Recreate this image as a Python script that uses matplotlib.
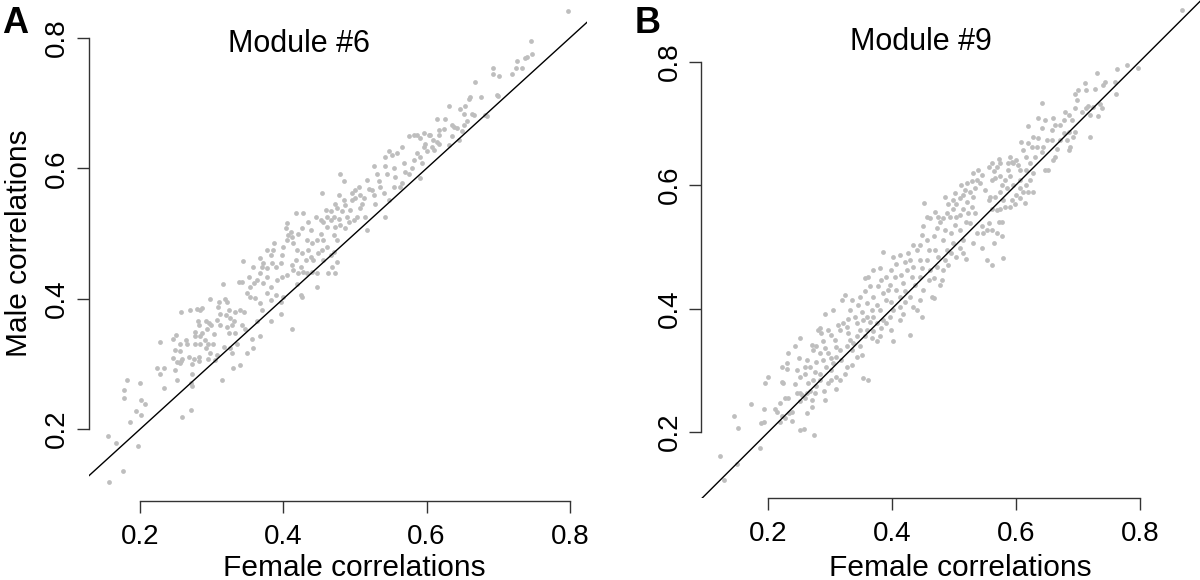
import matplotlib
matplotlib.use("Agg")
import matplotlib.pyplot as plt

plt.rcParams['font.family'] = ['Liberation Sans', 'DejaVu Sans']

W, H = 1200, 580

# (female, male) correlation pairs
a_pts = [
    (0.156, 0.119), (0.176, 0.135), (0.155, 0.190), (0.166, 0.179), (0.197, 0.174),
    (0.186, 0.210), (0.201, 0.222), (0.194, 0.228), (0.178, 0.247), (0.178, 0.260),
    (0.181, 0.275), (0.200, 0.271), (0.201, 0.245), (0.207, 0.238), (0.228, 0.334),
    (0.223, 0.294), (0.227, 0.285), (0.233, 0.294), (0.233, 0.263), (0.259, 0.219),
    (0.271, 0.229), (0.246, 0.338), (0.250, 0.344), (0.252, 0.275), (0.248, 0.291),
    (0.246, 0.309), (0.249, 0.321), (0.255, 0.320), (0.256, 0.330), (0.251, 0.303),
    (0.257, 0.305), (0.259, 0.308), (0.255, 0.301), (0.271, 0.270), (0.272, 0.266),
    (0.273, 0.284), (0.272, 0.300), (0.268, 0.310), (0.275, 0.308), (0.282, 0.310),
    (0.282, 0.305), (0.266, 0.331), (0.264, 0.337), (0.257, 0.379), (0.270, 0.382),
    (0.279, 0.384), (0.283, 0.382), (0.286, 0.385), (0.280, 0.365), (0.282, 0.360),
    (0.276, 0.349), (0.276, 0.342), (0.283, 0.342), (0.277, 0.331), (0.284, 0.331),
    (0.290, 0.337), (0.292, 0.325), (0.295, 0.330), (0.286, 0.348), (0.292, 0.365),
    (0.296, 0.362), (0.293, 0.353), (0.299, 0.360), (0.303, 0.346), (0.302, 0.331),
    (0.297, 0.316), (0.295, 0.307), (0.305, 0.306), (0.307, 0.314), (0.314, 0.275),
    (0.329, 0.293), (0.339, 0.298), (0.298, 0.399), (0.310, 0.395), (0.308, 0.388),
    (0.312, 0.377), (0.307, 0.367), (0.311, 0.360), (0.319, 0.400), (0.321, 0.395),
    (0.324, 0.382), (0.320, 0.375), (0.326, 0.370), (0.331, 0.365), (0.328, 0.360),
    (0.321, 0.357), (0.324, 0.347), (0.317, 0.326), (0.326, 0.324), (0.328, 0.316),
    (0.335, 0.331), (0.333, 0.347), (0.333, 0.380), (0.340, 0.383), (0.345, 0.380),
    (0.342, 0.360), (0.347, 0.354), (0.349, 0.316), (0.356, 0.338), (0.358, 0.324),
    (0.368, 0.343), (0.349, 0.408), (0.354, 0.403), (0.361, 0.401), (0.368, 0.393),
    (0.370, 0.383), (0.363, 0.365), (0.377, 0.408), (0.382, 0.398), (0.389, 0.406),
    (0.396, 0.395), (0.396, 0.377), (0.382, 0.365), (0.400, 0.403),
    (0.316, 0.423), (0.344, 0.458), (0.338, 0.426), (0.342, 0.426), (0.352, 0.434),
    (0.358, 0.448), (0.354, 0.418), (0.359, 0.424), (0.363, 0.429), (0.368, 0.439),
    (0.370, 0.449), (0.372, 0.454), (0.377, 0.447), (0.367, 0.463), (0.377, 0.475),
    (0.387, 0.486), (0.386, 0.475), (0.382, 0.467), (0.384, 0.454), (0.389, 0.449),
    (0.396, 0.454), (0.398, 0.467), (0.400, 0.480), (0.405, 0.490), (0.377, 0.434),
    (0.372, 0.424), (0.382, 0.418), (0.391, 0.429), (0.398, 0.434), (0.405, 0.436),
    (0.403, 0.508), (0.405, 0.516), (0.407, 0.498),
    (0.412, 0.354), (0.419, 0.423), (0.424, 0.406), (0.426, 0.403), (0.421, 0.439),
    (0.414, 0.444), (0.412, 0.452), (0.417, 0.459), (0.424, 0.449), (0.428, 0.441),
    (0.431, 0.459), (0.426, 0.470), (0.419, 0.475), (0.414, 0.485), (0.412, 0.495),
    (0.410, 0.503), (0.421, 0.500), (0.426, 0.508), (0.417, 0.531), (0.428, 0.531),
    (0.435, 0.518), (0.438, 0.505), (0.433, 0.490), (0.440, 0.485), (0.435, 0.475),
    (0.438, 0.464), (0.433, 0.439), (0.440, 0.441), (0.447, 0.418), (0.447, 0.439),
    (0.442, 0.459), (0.449, 0.470), (0.447, 0.490), (0.452, 0.500), (0.445, 0.526),
    (0.454, 0.562), (0.452, 0.521), (0.456, 0.518), (0.456, 0.490), (0.461, 0.480),
    (0.454, 0.475), (0.456, 0.459), (0.463, 0.439), (0.468, 0.449), (0.466, 0.467),
    (0.470, 0.472), (0.472, 0.439), (0.475, 0.457), (0.461, 0.510), (0.466, 0.521),
    (0.461, 0.526), (0.459, 0.536), (0.466, 0.534), (0.470, 0.526), (0.472, 0.510),
    (0.470, 0.498), (0.475, 0.490), (0.479, 0.513), (0.477, 0.523), (0.482, 0.534),
    (0.475, 0.539), (0.472, 0.546), (0.477, 0.559), (0.479, 0.592), (0.484, 0.580),
    (0.486, 0.544), (0.484, 0.551), (0.489, 0.526), (0.491, 0.518), (0.486, 0.508),
    (0.493, 0.536), (0.496, 0.562), (0.496, 0.551), (0.500, 0.554), (0.498, 0.521),
    (0.503, 0.526), (0.500, 0.567), (0.505, 0.572), (0.507, 0.559), (0.510, 0.546),
    (0.507, 0.539), (0.512, 0.554), (0.517, 0.505), (0.514, 0.526), (0.517, 0.582),
    (0.519, 0.569), (0.524, 0.567), (0.526, 0.559), (0.528, 0.546), (0.526, 0.603),
    (0.531, 0.592), (0.533, 0.580), (0.535, 0.572), (0.540, 0.562), (0.542, 0.526),
    (0.547, 0.551), (0.545, 0.592), (0.542, 0.603), (0.542, 0.618), (0.547, 0.626),
    (0.552, 0.620), (0.554, 0.600), (0.556, 0.587), (0.554, 0.572), (0.566, 0.577),
    (0.563, 0.572), (0.559, 0.623), (0.566, 0.633), (0.568, 0.608), (0.570, 0.595),
    (0.575, 0.592), (0.580, 0.600), (0.582, 0.613), (0.586, 0.623), (0.591, 0.618),
    (0.593, 0.608), (0.591, 0.585), (0.600, 0.626), (0.596, 0.633), (0.598, 0.638),
    (0.798, 0.841), (0.746, 0.795), (0.748, 0.775), (0.740, 0.771), (0.738, 0.769),
    (0.726, 0.764), (0.725, 0.754), (0.733, 0.754), (0.720, 0.745), (0.693, 0.754),
    (0.693, 0.745), (0.701, 0.742), (0.668, 0.732), (0.660, 0.709), (0.659, 0.706),
    (0.676, 0.709), (0.698, 0.713), (0.700, 0.711), (0.631, 0.696), (0.647, 0.691),
    (0.654, 0.696), (0.652, 0.683), (0.663, 0.684), (0.666, 0.682), (0.657, 0.673),
    (0.682, 0.682), (0.684, 0.680), (0.615, 0.676), (0.626, 0.676), (0.624, 0.661),
    (0.635, 0.666), (0.639, 0.664), (0.643, 0.662), (0.652, 0.666), (0.649, 0.658),
    (0.617, 0.659), (0.617, 0.651), (0.631, 0.636), (0.635, 0.649), (0.645, 0.643),
    (0.605, 0.651), (0.609, 0.643), (0.614, 0.641), (0.617, 0.638), (0.607, 0.633),
    (0.610, 0.628), (0.576, 0.649), (0.582, 0.651), (0.587, 0.651), (0.596, 0.654),
    (0.591, 0.646), (0.603, 0.651),
]

b_pts = [
    (0.128, 0.123), (0.123, 0.161), (0.149, 0.148), (0.187, 0.174), (0.151, 0.207),
    (0.145, 0.227), (0.173, 0.246), (0.189, 0.215), (0.193, 0.216), (0.194, 0.237),
    (0.195, 0.279), (0.200, 0.290), (0.211, 0.237), (0.215, 0.232), (0.219, 0.248),
    (0.219, 0.216), (0.223, 0.227), (0.227, 0.223), (0.238, 0.218), (0.234, 0.231),
    (0.239, 0.233), (0.251, 0.203), (0.258, 0.205), (0.274, 0.195), (0.270, 0.241),
    (0.262, 0.231), (0.251, 0.250), (0.246, 0.263), (0.232, 0.255), (0.227, 0.255),
    (0.222, 0.282), (0.224, 0.279), (0.222, 0.305), (0.230, 0.312), (0.232, 0.328),
    (0.231, 0.303), (0.244, 0.278), (0.251, 0.263), (0.254, 0.260), (0.259, 0.255),
    (0.262, 0.263), (0.267, 0.266), (0.278, 0.274), (0.275, 0.263), (0.270, 0.252),
    (0.290, 0.266), (0.292, 0.252), (0.309, 0.270), (0.297, 0.279), (0.302, 0.285),
    (0.310, 0.290), (0.316, 0.285), (0.284, 0.285), (0.273, 0.285), (0.265, 0.279),
    (0.259, 0.295), (0.251, 0.290), (0.246, 0.301), (0.249, 0.320), (0.243, 0.339),
    (0.251, 0.352), (0.262, 0.317), (0.259, 0.306), (0.267, 0.306), (0.275, 0.298),
    (0.284, 0.295), (0.278, 0.314), (0.273, 0.333), (0.270, 0.341), (0.278, 0.339),
    (0.284, 0.328), (0.289, 0.317), (0.294, 0.306), (0.302, 0.301), (0.305, 0.312),
    (0.310, 0.322), (0.302, 0.320), (0.297, 0.328), (0.292, 0.336), (0.289, 0.347),
    (0.281, 0.365), (0.285, 0.360), (0.284, 0.368), (0.292, 0.392), (0.304, 0.398),
    (0.297, 0.365), (0.302, 0.357), (0.308, 0.349), (0.310, 0.338), (0.316, 0.333),
    (0.318, 0.317), (0.327, 0.306), (0.324, 0.295), (0.335, 0.309), (0.343, 0.322),
    (0.353, 0.287), (0.362, 0.285), (0.316, 0.365), (0.321, 0.376), (0.313, 0.374),
    (0.327, 0.371), (0.329, 0.360), (0.332, 0.349), (0.327, 0.339), (0.335, 0.333),
    (0.337, 0.344), (0.351, 0.325), (0.343, 0.355), (0.348, 0.339), (0.319, 0.414),
    (0.324, 0.422), (0.335, 0.414), (0.332, 0.398), (0.340, 0.387), (0.329, 0.384),
    (0.343, 0.376), (0.348, 0.365), (0.356, 0.355), (0.359, 0.365), (0.364, 0.379),
    (0.359, 0.387), (0.353, 0.382), (0.351, 0.395), (0.345, 0.406), (0.348, 0.419),
    (0.356, 0.428), (0.359, 0.409), (0.367, 0.398), (0.370, 0.387), (0.375, 0.376),
    (0.370, 0.363), (0.367, 0.352), (0.380, 0.355), (0.375, 0.347), (0.383, 0.368),
    (0.386, 0.382), (0.380, 0.398), (0.375, 0.406), (0.370, 0.419), (0.364, 0.436),
    (0.362, 0.452), (0.356, 0.449), (0.370, 0.463), (0.386, 0.492), (0.380, 0.465),
    (0.383, 0.446), (0.378, 0.436), (0.386, 0.425), (0.391, 0.414), (0.394, 0.430),
    (0.397, 0.438), (0.391, 0.452), (0.399, 0.463), (0.402, 0.484), (0.413, 0.487),
    (0.407, 0.473), (0.405, 0.452), (0.407, 0.430), (0.399, 0.411), (0.402, 0.398),
    (0.397, 0.387), (0.391, 0.376), (0.399, 0.365), (0.402, 0.347), (0.413, 0.382),
    (0.418, 0.392), (0.413, 0.403), (0.421, 0.411), (0.413, 0.419), (0.421, 0.428),
    (0.418, 0.441), (0.415, 0.455), (0.424, 0.463), (0.421, 0.476), (0.426, 0.490),
    (0.429, 0.479), (0.434, 0.468), (0.432, 0.452), (0.437, 0.438), (0.429, 0.419),
    (0.434, 0.403), (0.429, 0.357), (0.440, 0.398), (0.448, 0.387), (0.445, 0.414),
    (0.450, 0.430), (0.445, 0.452), (0.448, 0.465), (0.445, 0.479), (0.440, 0.495),
    (0.434, 0.503), (0.445, 0.503), (0.448, 0.519), (0.450, 0.533), (0.456, 0.511),
    (0.459, 0.495), (0.456, 0.479), (0.461, 0.463), (0.459, 0.446), (0.467, 0.449),
    (0.464, 0.419), (0.467, 0.417), (0.472, 0.468), (0.475, 0.484), (0.469, 0.495),
    (0.467, 0.517), (0.472, 0.530), (0.477, 0.541), (0.485, 0.527), (0.483, 0.511),
    (0.488, 0.495), (0.485, 0.479), (0.483, 0.463), (0.480, 0.446), (0.477, 0.438),
    (0.491, 0.471), (0.496, 0.490), (0.499, 0.506), (0.496, 0.522), (0.502, 0.535),
    (0.510, 0.527), (0.515, 0.511), (0.510, 0.498), (0.504, 0.484), (0.515, 0.490),
    (0.520, 0.481), (0.526, 0.538), (0.520, 0.541), (0.537, 0.522), (0.531, 0.506),
    (0.868, 0.883), (0.798, 0.789), (0.780, 0.795), (0.763, 0.788), (0.760, 0.767),
    (0.761, 0.747), (0.731, 0.782), (0.744, 0.767), (0.741, 0.762), (0.728, 0.755),
    (0.714, 0.754), (0.712, 0.766), (0.701, 0.754), (0.696, 0.748), (0.717, 0.728),
    (0.714, 0.724), (0.725, 0.727), (0.736, 0.732), (0.739, 0.724), (0.733, 0.711),
    (0.698, 0.738), (0.696, 0.724), (0.706, 0.719), (0.720, 0.713), (0.720, 0.678),
    (0.643, 0.733), (0.636, 0.708), (0.647, 0.705), (0.660, 0.708), (0.679, 0.719),
    (0.685, 0.713), (0.690, 0.705), (0.677, 0.705), (0.671, 0.697), (0.663, 0.697),
    (0.658, 0.689), (0.642, 0.692), (0.620, 0.695), (0.677, 0.684), (0.685, 0.686),
    (0.696, 0.686), (0.682, 0.673), (0.693, 0.678), (0.687, 0.662), (0.685, 0.657),
    (0.666, 0.659), (0.671, 0.673), (0.658, 0.673), (0.650, 0.673), (0.663, 0.646),
    (0.660, 0.641), (0.652, 0.624), (0.647, 0.624), (0.642, 0.654), (0.644, 0.662),
    (0.636, 0.676), (0.628, 0.678), (0.626, 0.662), (0.634, 0.662), (0.631, 0.646),
    (0.623, 0.635), (0.617, 0.646), (0.612, 0.657), (0.609, 0.670), (0.620, 0.668),
    (0.601, 0.641), (0.596, 0.635), (0.604, 0.633), (0.607, 0.624), (0.617, 0.624),
    (0.628, 0.619), (0.623, 0.608), (0.617, 0.600), (0.607, 0.608), (0.607, 0.595),
    (0.612, 0.589), (0.620, 0.589), (0.628, 0.589), (0.615, 0.571), (0.607, 0.579),
    (0.599, 0.570), (0.593, 0.576), (0.590, 0.565), (0.601, 0.584), (0.596, 0.600),
    (0.590, 0.614), (0.588, 0.624), (0.593, 0.638), (0.590, 0.646), (0.572, 0.643),
    (0.574, 0.635), (0.569, 0.630), (0.564, 0.622), (0.561, 0.608), (0.566, 0.611),
    (0.574, 0.614), (0.582, 0.608), (0.577, 0.600), (0.585, 0.595), (0.574, 0.589),
    (0.566, 0.581), (0.558, 0.581), (0.580, 0.576), (0.582, 0.565), (0.574, 0.562),
    (0.569, 0.560), (0.561, 0.562), (0.572, 0.541), (0.577, 0.541), (0.556, 0.538),
    (0.553, 0.527), (0.561, 0.527), (0.545, 0.533), (0.547, 0.522), (0.545, 0.498),
    (0.553, 0.479), (0.561, 0.471), (0.580, 0.482), (0.556, 0.576), (0.550, 0.592),
    (0.542, 0.603), (0.537, 0.608), (0.545, 0.616), (0.534, 0.595), (0.531, 0.581),
    (0.526, 0.589), (0.518, 0.592), (0.515, 0.584), (0.510, 0.579), (0.521, 0.573),
    (0.529, 0.565), (0.534, 0.554), (0.523, 0.554), (0.515, 0.562), (0.504, 0.570),
    (0.499, 0.576), (0.499, 0.562), (0.491, 0.570), (0.486, 0.581), (0.488, 0.554),
    (0.494, 0.549), (0.483, 0.546), (0.504, 0.549), (0.510, 0.552), (0.469, 0.557),
    (0.475, 0.549), (0.461, 0.546), (0.451, 0.571), (0.456, 0.549), (0.502, 0.587),
    (0.512, 0.600), (0.521, 0.603), (0.529, 0.606), (0.531, 0.619), (0.539, 0.624),
    (0.556, 0.630), (0.561, 0.635), (0.588, 0.635), (0.569, 0.522), (0.577, 0.517),
    (0.564, 0.506),
]

ticks = [0.2, 0.4, 0.6, 0.8]
tick_labels = ["0.2", "0.4", "0.6", "0.8"]
titles = ["Module #6", "Module #9"]
tags = ["A", "B"]

# plot regions in pixels: left, right, bottom, top
regions = [(88.7, 586.9, 500.7, -7.6), (701.3, 1200.4, 498.3, -8.3)]
limits = [((0.128, 0.824), (0.090, 0.870)), ((0.092, 0.898), (0.093, 0.913))]


def fx(px):
    return px / W


def fy(py):
    return 1 - py / H


fig = plt.figure(figsize=(12, 5.8), dpi=100)

for i, pts in enumerate([a_pts, b_pts]):
    l, r, b, t = regions[i]
    ax = fig.add_axes([fx(l), fy(b), (r - l) / W, (b - t) / H])
    ax.patch.set_alpha(0)
    female = [p[0] for p in pts]
    male = [p[1] for p in pts]
    ax.scatter(female, male, s=12, color='#bebebe', linewidths=0, zorder=2)
    ax.axline((0, 0), (1, 1), color='black', lw=1.0, zorder=3)
    ax.set_xlim(limits[i][0])
    ax.set_ylim(limits[i][1])
    for side in ['top', 'right']:
        ax.spines[side].set_visible(False)
    for side in ['left', 'bottom']:
        ax.spines[side].set_bounds(0.2, 0.8)
        ax.spines[side].set_color('#333333')
        ax.spines[side].set_linewidth(1.0)
    ax.set_xticks(ticks)
    ax.set_xticklabels(tick_labels)
    ax.set_yticks(ticks)
    ax.set_yticklabels(tick_labels, rotation=90, va='center')
    ax.tick_params(direction='out', length=8.5, width=1.0, color='#333333',
                   labelsize=20)
    ax.tick_params(axis='x', pad=8)
    ax.tick_params(axis='y', pad=5)

# titles, panel tags, axis labels
fig.text(fx(228), fy(52), titles[0], fontsize=22, ha='left', va='baseline')
fig.text(fx(850), fy(50), titles[1], fontsize=22, ha='left', va='baseline')
fig.text(fx(2), fy(33), tags[0], fontsize=26, fontweight='bold', ha='left', va='baseline')
fig.text(fx(635), fy(33), tags[1], fontsize=26, fontweight='bold', ha='left', va='baseline')
fig.text(fx(354), fy(576), "Female correlations", fontsize=21.5, ha='center', va='baseline')
fig.text(fx(960), fy(576), "Female correlations", fontsize=21.5, ha='center', va='baseline')
fig.text(fx(33), fy(243), "Male correlations", fontsize=21.5, rotation=90,
         ha='right', va='center')

fig.savefig("out.png", dpi=100)
